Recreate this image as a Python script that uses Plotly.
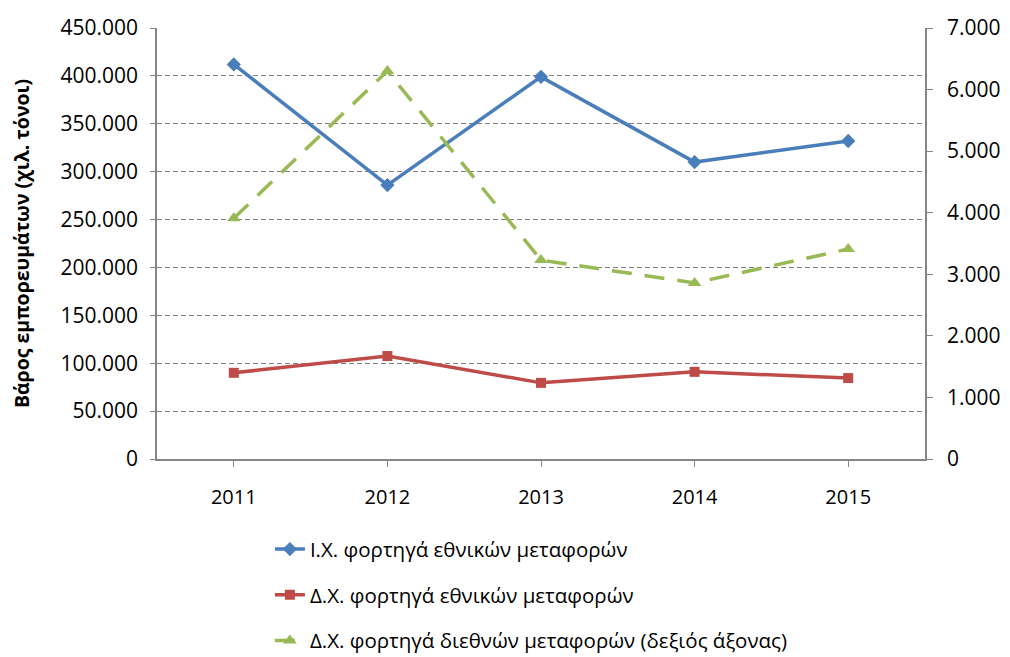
import plotly.graph_objects as go

years = ["2011", "2012", "2013", "2014", "2015"]
ix_national = [412000, 286000, 399000, 310000, 332000]
dx_national = [90000, 107500, 79500, 91000, 84500]
dx_international = [3910, 6300, 3230, 2860, 3410]

names = [
    "Ι.Χ. φορτηγά εθνικών μεταφορών",
    "Δ.Χ. φορτηγά εθνικών μεταφορών",
    "Δ.Χ. φορτηγά διεθνών μεταφορών (δεξιός άξονας)",
]

font_family = "Open Sans, Liberation Sans, sans-serif"

fig = go.Figure()
fig.add_trace(go.Scatter(
    x=years, y=ix_national, name=names[0], mode="lines+markers",
    line=dict(color="#4A7EBB", width=3.5),
    marker=dict(symbol="diamond", size=11, color="#4A7EBB"),
    legendgroup="a",
))
fig.add_trace(go.Scatter(
    x=years, y=dx_national, name=names[1], mode="lines+markers",
    line=dict(color="#BE4B48", width=3.5),
    marker=dict(symbol="square", size=10, color="#BE4B48"),
    legendgroup="b",
))
fig.add_trace(go.Scatter(
    x=years, y=dx_international, name=names[2], mode="lines+markers",
    line=dict(color="#98B954", width=3.5, dash="20px,13px"),
    marker=dict(symbol="triangle-up", size=12, color="#98B954"),
    yaxis="y2", legendgroup="c",
))

fig.update_layout(
    width=1010, height=649,
    margin=dict(l=149, r=93, t=20, b=198, autoexpand=False),
    paper_bgcolor="white", plot_bgcolor="white",
    separators=",.",
    font=dict(family=font_family, size=21, color="black"),
    showlegend=True,
    legend=dict(
        orientation="v", x=0.147, y=-0.163, xanchor="left", yanchor="top",
        font=dict(size=20.5), tracegroupgap=16, itemwidth=30,
    ),
    xaxis=dict(
        type="category", range=[-0.5, 4.5],
        showline=True, linecolor="#868686", linewidth=1.5,
        ticks="outside", ticklen=6, tickcolor="#868686",
        showgrid=False, tickfont=dict(size=20), ticklabelstandoff=13,
    ),
    yaxis=dict(
        range=[0, 450000], dtick=50000, tickformat=",d",
        showline=True, linecolor="#868686", linewidth=1.5,
        ticks="outside", ticklen=5, tickcolor="#868686",
        showgrid=True, gridcolor="#808080", griddash="5px,3px", gridwidth=1.2,
        zeroline=False, tickfont=dict(size=21), ticklabelstandoff=8,
        title=dict(text="<b>Βάρος εμπορευμάτων (χιλ. τόνοι)</b>", font=dict(size=19.5), standoff=28),
    ),
    yaxis2=dict(
        range=[0, 7000], dtick=1000, tickformat=",d", overlaying="y", side="right",
        showline=True, linecolor="#868686", linewidth=1.5,
        ticks="outside", ticklen=6, tickcolor="#868686",
        showgrid=False, zeroline=False, tickfont=dict(size=21), ticklabelstandoff=10,
    ),
)

fig.write_html("out.html")
